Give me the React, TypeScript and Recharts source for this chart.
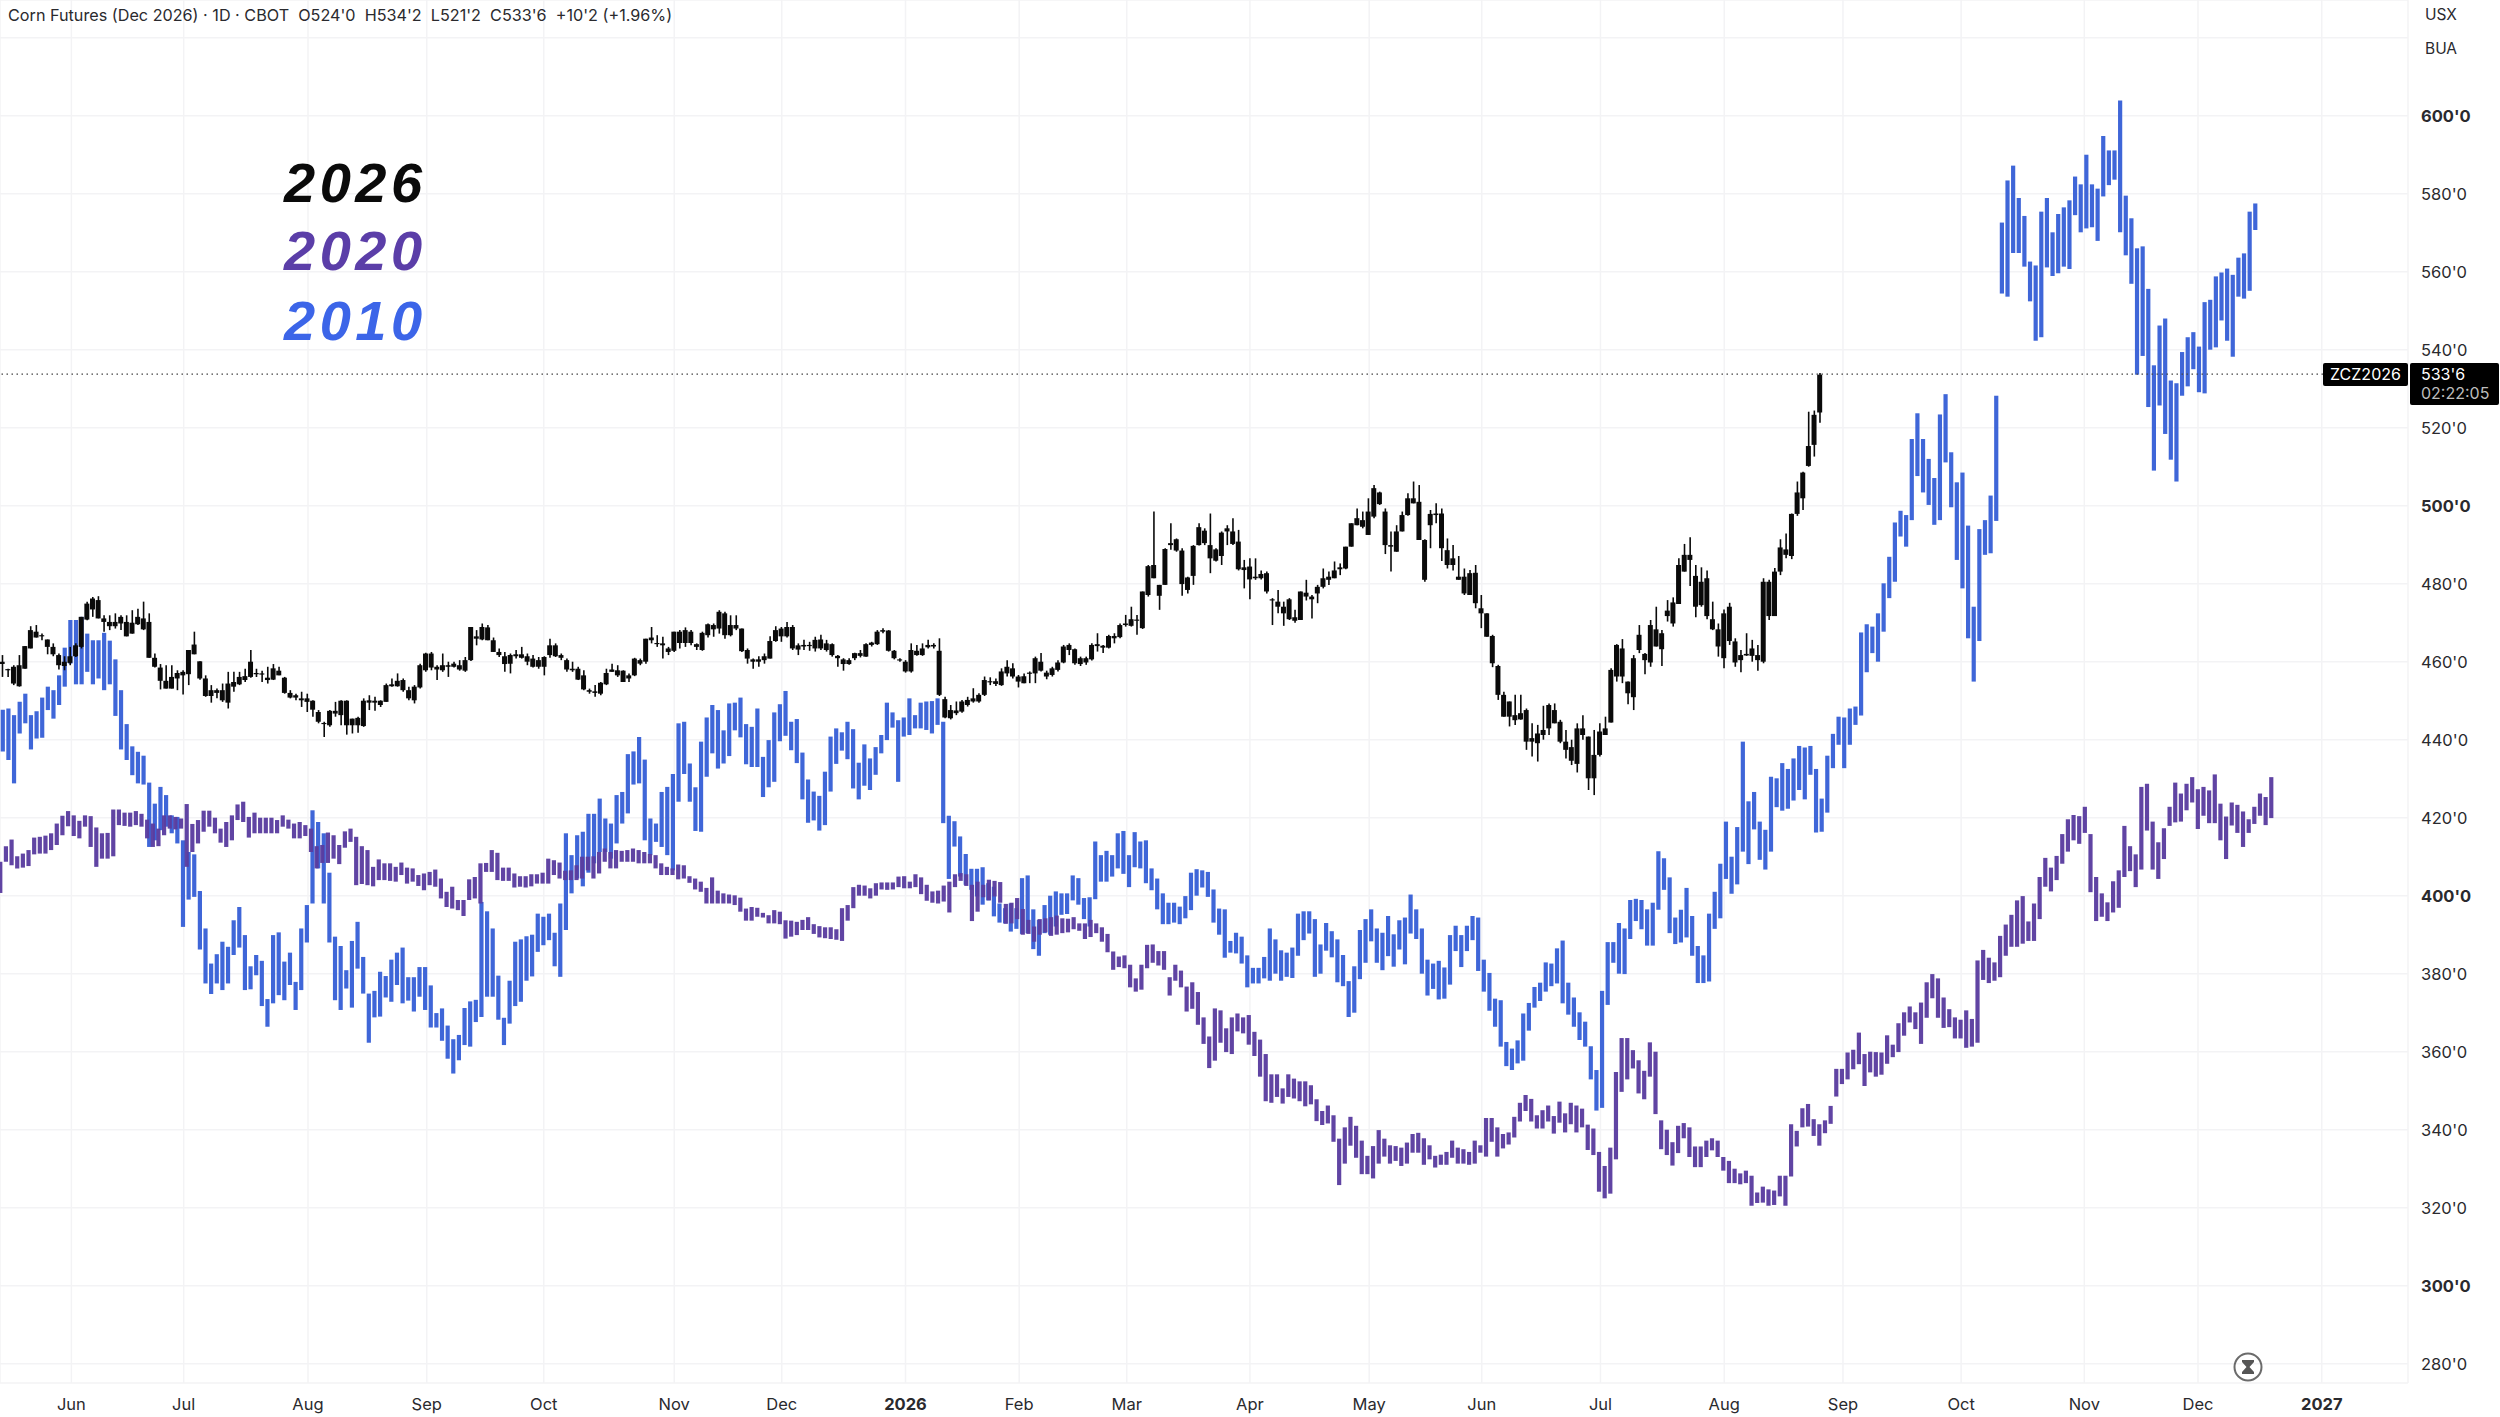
import React from 'react';
import { ComposedChart, Bar, XAxis, YAxis, CartesianGrid, ReferenceLine } from 'recharts';

const WIDTH = 2500, HEIGHT = 1417, PLOT_W = 2408;

const monthLabels = ['Jun','Jul','Aug','Sep','Oct','Nov','Dec','2026','Feb','Mar','Apr','May','Jun','Jul','Aug','Sep','Oct','Nov','Dec','2027'];
const monthPositions = [12.75,32.8,55,76.2,97.1,120.4,139.6,161.7,182,201.2,223.2,244.5,264.6,285.8,307.9,329.1,350.2,372.2,392.5,414.6];
const priceTicks = [280,300,320,340,360,380,400,420,440,460,480,500,520,540,560,580,600,620];
const boldPrices = [300,400,500,600];
const lastPrice = 533.75;

// 2026: [low, body low, body high, high]
const candles2026 = [
[456.1,459.4,460,461.7],[456.1,457.8,458,458.2],[454,454.4,458.7,459.1],[453.6,453.7,459.1,461.7],[458.2,458.2,464,464],[463.4,463.4,468.1,469.1],[466.2,466.2,467.7,469.4],[465.5,466.5,466.8,467.2],[461.9,463.8,465.7,465.7],[461.4,461.9,463.8,464.7],
[458,459.1,461.7,462.1],[457.8,458.9,460,461.4],[459.1,459.7,461.4,463.8],[461.2,461.4,464.2,464.7],[463.4,463.8,471.5,471.5],[470.6,470.8,474.9,475.4],[471.5,473.4,476.2,476.6],[471.1,471.1,475.8,476.8],[467.7,470.2,471.1,471.9],[468.1,469.1,470.2,471.9],
[468.5,469.1,470.2,472.4],[468.1,469.8,471.5,471.9],[466.5,466.5,470.2,471.9],[467.2,467.2,470,473.2],[469.4,469.6,471.5,473.6],[468.1,468.3,471.1,475.4],[461,461,470.2,472.4],[458.5,458.7,461,462.1],[452.9,455.1,458.5,459.4],[453.1,453.1,455.1,459.1],
[453.1,453.1,456.1,459.1],[452.7,455.7,457.1,457.8],[451.6,456.5,457.4,457.8],[454,456.8,463,463],[461.9,461.9,464.4,467.7],[455.4,455.7,460.1,460.1],[451,451.2,455.7,456.5],[449.5,451.2,452.7,454],[450.6,452,452.7,453.1],[449.7,450.1,452.7,454.4],
[448,449.5,454.4,457.4],[452.3,453.6,454.8,457.4],[454,454.2,456.1,457.4],[454.8,455.3,456.3,458.2],[455.9,456.1,460,463],[456.1,456.8,457.1,458.2],[454.8,456.7,457,457.7],[454.4,455.3,455.9,458.7],[455.3,455.4,458.3,459.4],[456.5,456.5,457.7,458.7],
[451.8,452,455.9,456.1],[450.6,450.8,452,452.7],[450.1,450.8,451.4,451.8],[448.4,450.1,450.6,452.3],[447.1,449.7,450.6,451.8],[445.9,447.7,450,450.1],[444.2,444.6,447.1,447.6],[440.7,444,444.3,444.6],[443.3,443.7,447.4,447.6],[445.9,446.7,447.4,449.7],
[443.7,446.3,450,450.1],[441.3,443.7,450,450.1],[441.6,443.7,445.4,445.4],[441.8,443.7,445.6,445.9],[443.3,443.5,450,450.6],[447.6,449.5,450.1,451.4],[447.4,449.5,450,451],[448.4,448.9,450,450.1],[449.7,449.7,454,454.4],[453.6,453.7,454.2,455.7],
[453.6,453.7,455.1,457],[452.3,452.7,455.3,455.7],[450.1,450.6,452.7,453.6],[449.3,450.1,453.6,454],[453.1,453.4,459.1,459.5],[457.4,457.8,462.1,462.3],[457.8,458.5,462.1,462.5],[455.3,458,458.7,459.1],[457.4,457.8,459.1,462.1],[456.1,458.7,459.1,460],
[458.5,458.7,459.5,460],[457.7,458,459.1,460.4],[457.4,457.7,460.4,461.2],[460.2,460.4,468.9,468.9],[464.2,465.9,466.5,468.1],[465.5,465.7,468.9,469.8],[465.5,465.5,468.8,469.4],[462.5,462.5,465.5,466.2],[461.2,461.7,462.5,463.4],[457.4,459.4,461.4,462.5],
[457,459.5,461.7,462.1],[460.8,461.4,461.9,463],[460.8,461,461.9,463.8],[459.1,460,461.4,462.1],[458.5,458.7,460.8,461.7],[458.2,458.7,460.4,461.2],[456.5,458.7,461.2,461.4],[461,461.7,464.2,465.9],[461.2,461.4,464.2,464.7],[460.4,461,461.7,462.1],
[457.4,458,460.4,460.8],[457.4,457.8,458.2,460],[455.3,455.4,458.2,458.7],[452.7,452.9,456.5,457.8],[451.8,452.3,452.7,453.1],[451,452,452.4,454],[451.4,451.8,454.6,454.8],[454,454.2,457.1,458.2],[457.4,457.4,458,459.5],[456.1,456.5,457.8,459.1],
[454.8,454.8,457.7,457.8],[454.8,455.7,456.5,457],[456.3,456.5,460.8,461],[459.1,459.5,460.4,460.8],[459.5,460,465.9,465.9],[464.7,465.5,466.2,468.9],[463.8,464.5,464.8,466.8],[460.8,464.2,464.7,466.4],[461.7,462.5,463.4,463.8],[462.5,462.8,467.7,467.7],
[463.4,464.8,467.7,468.1],[463.8,464.8,468.1,468.8],[464.2,464.8,467.7,468.1],[463,463.8,464.5,464.7],[462.8,463,467.4,467.7],[466.2,466.8,469.6,469.8],[466.4,468.3,469.4,469.8],[467.2,468.5,472.8,473.2],[465.9,466.8,472.4,472.8],[466.5,466.8,469.4,471.9],
[468.1,468.5,469.4,471.9],[462.5,462.7,468.5,468.5],[459.5,460.8,463,463.4],[458.2,460,460.6,460.8],[458.7,460,460.6,461.4],[459.5,460.4,461.4,462.1],[460.8,460.8,465.3,466.5],[465.1,465.3,468.1,469.1],[465.1,466.5,468.5,468.9],[466.2,466.5,468.9,470.2],
[463,463.4,468.9,469.4],[461.7,463.1,464.2,464.7],
[463,463.9,464.3,465.6],[462.8,464,464.3,465.1],[462.6,463.4,465.6,466.4],[463,463.4,465.7,466.9],[462.6,463,464.7,465.6],[461.3,461.7,464.5,464.7],[458.7,460.9,461.5,461.7],[457.7,459.4,460.6,460.9],[459.2,459.4,460.4,460.9],[460.4,460.9,462.2,462.3],
[461.1,461.5,462.2,463],[461.3,461.3,464.5,464.7],[463.9,464.3,464.9,465.1],[464.3,464.5,467.7,468.1],[467.3,467.7,468.1,468.6],[462.6,462.8,468,468.1],[460.6,460.9,462.8,463],[460,460.3,460.6,460.9],[457.2,457.5,460,460.4],[457.2,457.5,463,464.7],
[461.5,461.7,462.8,464.3],[461.5,461.7,463.4,464.7],[463.4,463.7,464.3,465.6],[463.4,463.9,464.3,464.7],[451.2,451.5,462.8,466],[445.5,445.7,450.4,451],[445.2,445.5,447.6,448.9],[446.3,446.8,447.5,449.8],[446.9,447.2,449.8,450.2],[448.5,448.9,450.2,451],
[449.5,449.8,450.6,453.2],[449.5,449.8,451.5,451.9],[451.2,451.5,455.3,456.2],[454,454.7,455,456],[453.8,454.3,455,455.7],[453.8,454,457.5,458.3],[456.2,457,458.7,460.4],[455.7,456.2,458.3,459.6],[453.4,454.9,456.2,456.6],[454.5,454.5,456.3,457],
[454.5,456.9,457.2,457.5],[454.5,457,460.9,461.3],[457.5,457.7,460,462.2],[455.5,456.2,457.2,457.7],[456.2,456.6,458.3,458.7],[457.5,457.9,459.8,460.4],[459.6,459.8,463.9,464.3],[461.7,463,464.3,464.7],[459.2,459.6,463.2,463.4],[458.9,459.4,460.9,461.3],
[459.2,459.8,460.9,461.3],[460.3,460.6,464.3,464.7],[462.6,464,464.5,467.3],[462.2,463.6,464.1,464.3],[463.4,463.6,466.6,466.9],[464.7,466,466.6,467.3],[466,466.3,469.4,469.8],[469,469.4,469.8,472],[469,469.2,470.9,474.1],[466.9,470.5,470.7,472],
[468.4,468.6,478,478],[476.7,477.1,484.5,484.8],[481.4,481.4,484.8,498.5],[473.3,476.9,479.7,479.7],[479.7,479.7,488.9,489.1],[488.7,489.9,490.4,495.5],[488.2,488.5,491.4,491.6],[476.9,479.9,488.5,489.1],[477.5,478.4,481.6,481.8],[479.7,482,489.7,489.9],
[489.8,489.9,494.5,495.5],[489.9,490.4,493.6,494.2],[482.7,486.5,489.9,498],[485.7,485.9,488.8,489.1],[484.8,487.1,493.1,493.4],[489.9,493.4,494.2,495],[489.9,490.2,493.4,496.8],[483.4,483.7,490.8,493.8],[478.8,483.5,484.2,486.1],[476,481.1,484.4,486.5],
[481,481.4,481.8,486.5],[481.1,481.4,482.5,483.4],[477.5,478,482.7,483.1],[469.4,475.7,476,476.3],[472.4,474.1,475.4,478.4],[469.2,472.4,474.1,475.4],[470.7,470.9,476,476.3],[470,470.5,471.4,473.3],[470.7,470.7,478,478],[475.7,476.7,477.7,481],
[471.1,476,476.7,477.1],[475,477.5,479.2,479.7],[478.8,479.2,481.4,483.9],[479.7,481,481.8,483.1],[481.4,481.4,483.4,485.7],[482.2,483.7,484.2,485.2],[483.7,483.9,489.5,489.5],[489.5,489.5,495.5,495.5],[495,495,496.8,499.3],[494.2,494.6,496.3,498.5],
[492.5,492.5,498.5,501.9],[496.8,497.2,504.5,505.3],[500.2,500.4,503.4,503.6],[487.6,489.9,498.5,499.3],[483.1,489.5,489.9,493.4],[488.2,488.2,493.4,495],[493.4,493.4,497.6,498.5],[497.4,497.6,501.9,503.2],[500.6,500.6,501.9,506.2],[491.2,491.2,501,505.3],
[480.5,481,491.2,491.4],[489.1,495,497.9,498.9],[495.5,497.6,498,500.6],[485.8,489.1,498,499.3],[483.9,484.8,488.6,491.6],[483.4,484.8,486.5,489.9],[481,481,481.8,487.1],[477.1,477.5,481.8,483.9],[477.1,477.1,482.7,483.5],[473.7,475,482.8,484.8],
[468.6,472.4,473.7,477.1],[466.4,466.4,472.4,472.4],[458.6,459.6,466.6,466.9],[450.2,451.5,458.9,459.2],
[445.9,445.9,451.5,452.3],[443.4,445.9,449.8,449.8],[443.8,445,446.3,451.5],[445.1,445.2,446.8,451.5],[437.4,439.5,447.6,448],[435.7,439.5,440.4,444.2],[434.4,439.1,441.6,443.8],[440,441.2,442.5,448.7],[441.2,442.9,448.9,449.3],[444.2,444.2,447.6,449.3],
[439.1,439.5,444.6,445.1],[435.2,437.4,439.5,442.5],[433.5,434.6,438.1,440],[431.6,433.8,442.9,444.2],[440,441.2,442.9,446.3],[427.1,430.1,440.8,440.8],[425.8,430.1,436.1,442.5],[435.7,436.1,442.1,444.2],[441.2,441.2,442.9,445.9],[444.4,444.4,457.9,458.3],
[454.9,456.2,464.3,464.5],[454.5,456.2,463.4,465.8],[449.1,451.9,454.9,454.9],[447.6,450.9,460.9,461.7],[462.2,463,466.9,469.4],[456.8,460.4,462,462.2],[458.7,459.8,469.4,470.7],[463.9,463.9,468.3,474.1],[458.9,463.2,467.3,468.1],[470.3,471.7,473.1,475.8],
[469,469.8,475.2,476.5],[474.8,474.8,484.8,486.5],[483.1,483.1,487.4,490.2],[479.4,486.1,487.4,491.9],[471.4,474.1,482,484.8],[474.1,474.5,480.5,484.2],[470.9,471.7,481.4,483.4],[468.1,468.3,470.9,475.4],[461.3,463.9,468.3,469.8],[458.3,460.9,472.4,473.4],
[464.3,465.3,474.1,475.1],[458.7,459.8,465.2,466],[457.3,460.4,461.7,463],[461.5,461.6,462,467.3],[460,461.5,463.4,465.6],[457.7,460.4,461.7,464.3],[459.6,460,480.5,481.4],[470.7,471.7,480.5,481],[471.7,471.7,483.1,484],[482.2,483.1,489.3,491.4],
[486.5,487.4,488.8,492.9],[486.3,487.1,497.9,498],[497.4,497.9,503.4,506.2],[498.9,501.9,508.5,508.7],[510,510.2,515.3,524.1],[512.6,515.6,523.3,524.4],[521.3,523.9,533.6,534],
];

// 2020: [low, high]
const bars2020 = [
[400.7,408.7],[408.7,412.7],[407.8,414.4],[407,410.1],[407.2,410.8],[407.6,411.7],[410.6,414.9],[410.8,415.1],[410.8,415.4],[411.7,416],
[413,418.5],[415.5,420.5],[417.8,421.7],[415.3,420.6],[414.7,419.2],[417.7,420.6],[412.5,420.4],[407.4,417.5],[409.5,416],[409.5,416.1],
[410.1,422.1],[418.1,422.1],[417.9,421.3],[417.7,421.3],[418.1,421.7],[417.7,421],[414.7,419.5],[412.5,418.5],[412.7,417.2],[415.5,420.6],
[417.2,420.6],[417,420.2],[417.2,419.8],[407.4,423.5],[411.2,418.4],[413.4,419.4],[416.4,421.8],[417.7,421.8],[416,420],[413.6,417.2],
[412.5,418.9],[414.2,420.6],[419.4,423.4],[418.9,424.1],[414.9,420.2],[416,421.3],[416,420],[416,420],[416,420],[416,419.4],
[417.7,420.6],[417.2,419.5],[414.7,418.5],[414.7,418.9],[415.3,418.1],[411.2,417.2],[407,412.7],[408.4,413],[408.4,416.2],[409.5,415.5],
[408.1,413],[412.3,416.5],[413.8,417.2],[402.7,415.1],[403,412.7],[402.7,411.7],[402.4,407.4],[404,409.3],[404,408.3],[403.8,408.3],
[403.6,407.4],[405.3,408.5],[403.1,407.2],[403.6,407],[402.5,405.3],[401.4,405.7],[402.7,406.1],[402.3,406.7],[399.3,404.4],[397.1,401],
[396.7,402.3],[396.3,398.9],[394.8,398.9],[398.9,404.2],[399.3,404.8],[398,408.3],[406.1,408.4],[406.1,411.7],[404,411],[403.8,407.2],
[403.8,407.2],[402.1,405.7],[402.3,405],[402.1,405],[402.4,405.5],[403.1,405.5],[403.1,405.9],[403.1,409.5],[405.3,409.1],[404.4,408.5],
[404,406.4],[404,406.5],[404,407.8],[404.4,410],[406.5,410],[404.4,410.1],[405.7,411.2],[408.7,412.1],[407,411.2],[407,411.7],
[408.7,411.5],[408.7,411.7],[408.7,412.1],[408.3,411.7],[408.3,411.2],[408.3,410.7],[407,410.4],[405.3,408.3],[405.3,407.4],[405.3,407],
[404.2,408],[404.4,407.8],[403.3,405],[401.6,404.4],[401,403.6],[398,402],[398,404.7],[398,401.3],[398,400.6],[398,400.3],
[397.6,400.1],[395.9,399.5],[393.6,396.7],[393.6,397.1],[394.6,396.9],[394.4,395.6],[392.9,395],[392.9,396.3],[392.7,395.9],[389,393.7],
[389.5,393.6],[389.9,393.3],
[391.2,393.8],[391.2,394.5],[390.2,392.7],[389.3,392.2],[389.1,391.9],[388.9,391.9],[388.7,391.4],[388.4,396.8],[393.6,397.6],[396.8,402.2],
[400,402.8],[400,402.6],[399.3,401.9],[400,403.2],[401.6,403.4],[401.5,403.4],[401.6,403.4],[402.2,404.9],[401.9,405],[401.9,403.6],
[402.2,405.5],[400.4,404.7],[398.7,402.8],[398.2,401.1],[398,401.3],[398.5,402.6],[395.7,403.6],
[402.2,405.5],[403.8,405.8],[402.5,405.5],[393.5,402.8],[395.9,403.6],[399.6,402.8],[398.8,404.1],[399.8,403.8],[398.2,403.5],[392.8,397.9],
[392.9,398.2],[394,399.4],[390,396.6],[390.2,393.8],[388.2,392.1],[390,394],[390.6,394.2],[389.7,394.5],[390,394.9],[390.4,394.2],
[390.6,394.1],[391.4,394.5],[391,392.9],[388.9,392.9],[389.4,393.8],[390.4,392.9],[388.2,391.9],[385.5,390.2],[381,385.7],[381.7,384.4],
[381.4,384.7],[376.5,382.3],[375.4,378.8],[375.9,382.3],[381.4,387.4],[382.8,387.5],[382.1,385.8],[381,385.8],[374.4,379.1],[378.2,382.3],
[376.5,380.8],[370.3,376.7],[371,377.8],[366.9,375.3],[362,368.8],[355.8,363.9],[357.7,371.1],[362.3,370.6],[359.9,366],[359.4,368.8],
[365.2,369.8],[364.7,368.8],
[361.8,369.4],[358.9,365.1],[353.6,363.1],[347.3,359.4],[346.9,354.2],[348.4,354.2],[346.7,350.6],[348.4,354.2],[348,353.1],[347.3,352.4],
[346,352.4],[346.5,351.4],[342.2,347.8],[341.2,344.8],[341.6,346.2],[336.9,343.7],[325.8,337.7],[331.3,340.6],[335.9,343.3],[332.8,341],
[328.6,337.2],[328.6,333.3],[327.5,335.8],[331.3,339.9],[333.1,337.7],[331.3,336],[332,335.8],[330.7,335.4],[331.3,336.7],[334.1,338.9],
[334.1,339.2],[331,337.8],[332.4,336],[330.3,333.3],[331,333.6],[331,334.3],[332.8,337.2],[331.3,335.4],[331.3,335],[331,334.3],
[331.3,337.2],[334.1,336],[333.1,343],[336.9,343],[333.1,340.6],[335.2,338.9],[336.2,339.3],[338,343.3],[342.1,346.9],[344.8,348.9],
[342.1,347.9],[340.3,343.7],[340.3,345],[342.1,346.2],[339,343.5],[341.8,347.2],[339.3,344.2],[341.4,346.9],[339.3,346.2],[340.6,345.4],
[334.8,341.3],[333.5,340.3],[324.1,334.3],[322.4,330.7],[323.6,335.4],[332.4,354.8],[349.7,363.5],[352.9,363.5],[355.7,360.4],[349.3,357.8],[347.8,355.1],
[353.6,362.4],[344,360],[335,342.4],[333.5,340],[330.8,336.8],[334,341],[337.8,341.7],[333,340.6],[330.4,335.7],[330.4,335.7],
[333,337.2],[334.7,337.8],[333,337.2],[329.5,333],[326.3,332],[326.3,330],[326,328.8],[326.3,329.5],[320.5,328.2],[321.2,323.9],
[321.3,325.4],[320.5,324.7],[320.7,324.4],[322.9,328.2],[320.5,328.2],[328,341.4],[335.7,339.7],[340.6,345.5],[340.8,346.6],[338.4,342.7],
[335.9,341.4],[339.1,342.4],[341.5,346.1],[348.5,355.6],[351.7,355.6],[352.9,359.8],[355.5,360.5],[356.8,364.9],[351.2,359.4],[354.7,360],
[353.6,359.9],[354.1,359.8],[356.9,364.2],[358.6,361.8],[359.9,367.3],[364.1,370.1],[367.5,371.6],[365.8,370.1],[362,372.6],[368.7,377.8],
[373.7,379.9],[368.7,378.8],[366.1,373.9],[366.3,370.9],[363.4,368.8],[363.4,368.2],[361,370.6],[361.3,368.4],[362.3,383.4],[378.4,386.1],
[377.6,384.1],[378.2,382.9],
[379.1,389.7],[384.6,392.6],[386.9,395.1],[386.9,398.8],[387.7,399.9],[388.4,393.4],[388.4,398],[394,404.8],[402.3,409.7],[401.1,407.2],
[404,410.2],[408.2,415.8],[411.3,419.6],[414.2,420.7],[413.3,420.4],[416.1,422.8],[400.9,415.8],[393.5,404.8],[394.6,400.6],[393.5,398.3],
[395.7,403.7],[396.9,406.5],[404.8,417.9],[406.3,412.7],[402.2,410.6],[406.7,427.9],[416.7,428.7],[406.7,419],[404.3,413.7],[409.4,417.3],
[417.9,422.8],[418.8,429],[419,426.2],[421.9,428.7],[423.9,430.4],[417.1,427.3],[420.5,427.9],[418.6,427],[418.6,431.1],[414.2,423.6],
[409.4,420.3],[418,423.9],[416.1,423.3],[412.5,421.6],[416.1,419.6],[418.4,422.8],[420.5,426.2],[418.1,425.3],[419.9,430.4],
];

// 2010: [low, high]
const bars2010 = [
[437,447.7],[434.8,448],[428.8,446.3],[441.6,449.7],[444.2,451.8],[437.5,446.3],[440.3,447.3],[440.5,450.8],[447.6,453.6],[445.4,452.7],
[448.9,456.5],[453.6,463.6],[459.5,470.7],[454.2,470.7],[454.2,471.5],[457.4,467.2],[454.2,465.5],[455.7,465.5],[452.7,467.4],[454.2,465.4],
[446.1,460.6],[437.5,452.7],[434.8,444],[430.9,438.3],[428.8,436.9],[428.5,435.9],[412.5,429],[414.2,423.6],[416.8,427.9],[417.7,425.8],
[416,420.6],[413.4,420.2],[392,414.2],[399,411.2],[399.7,410.6],[386.2,401.2],[377.5,391.6],[374.8,382.6],[377.5,385],[375.8,388.2],
[377.5,386.9],[384.8,393.7],[386.7,397.1],[375.8,389.9],[376,381.9],[379.6,384.8],[371.7,383.3],[366.4,373.5],[372.4,389.9],[374.5,390.6],
[373.2,383.1],[377.1,385.4],[370.7,377.9],[375.8,391.6],[388,397.6],[398,421.9],[407,418.9],[398,416],[388,405.9],[373.2,389.5],
[370.7,387.1],[376.2,380.9],[371.3,388.4],[381.3,393.3],[374.9,384.3],[362.3,374.9],[368.8,375.6],[369,380.5],[373.9,379.4],[372.8,383.6],
[377.1,385.4],[372.4,386.7],[373.1,379.1],[370.3,379.1],[374.1,381.7],[370.7,381.7],[366.2,377],[366.2,369.9],[362.8,371.1],[358.2,366.7],
[354.4,363.2],[357.8,364.3],[361.7,371.2],[361.3,372.9],[367.6,373.3],[368.9,398.4],[374.1,396],[374.1,391.6],[368.2,379.5],[361.7,368.7],
[367.2,378.2],[371.7,388.2],[372.8,388.8],[378.2,389.6],[379.3,390],[385.6,395.4],[387.3,394.6],[388.6,395.4],[381.9,390.5],[379.2,398],
[391.2,416],[400.6,410.4],[404.4,415.5],[402.4,416.4],[405.9,421],[408.3,421],[411.2,424.9],[411.2,419.8],[409.5,418.5],[413.4,425.8],
[418.5,426.6],[421.1,436.3],[428.5,437],[428.8,440.7],[414.2,434.9],[410.4,419.8],[413.8,418.5],[412.5,426.6],[410.4,427.9],[406.5,431.2],
[424.1,444.2],[431.2,444.6],[424.1,433.9],[416.6,427.8],[416.4,439.5],[430.5,445.7],[436.5,448.9],[432.6,447.6],[433.9,442.4],[435.8,449.3],
[442.4,449.5],[440.6,450.8],[433.7,444],[433,443.3],[433,448],[425.3,435.6],[427.8,439.9],[429.2,447],[439.6,449.1],[441,452.5],
[437.3,444.6],[434,445.3],
[424.7,436.7],[418.7,429.8],[419.3,426.7],[416.7,425.6],[418.1,431.8],[426.7,440.8],[433.8,442.9],[437.2,441.9],[435,444.6],[427.5,442.7],
[424.7,434.1],[428.2,438.8],[427.1,435.2],[431,438.1],[436.5,441.2],[439.9,449.5],[443.1,447],[429.2,445],[440.8,445.7],[441.2,450.6],
[442.9,446.3],[442.9,449.5],[442.5,449.8],[441.6,449.9],[443.8,450.6],[418.6,444.6],
[404.3,420.5],[412.6,419.1],[404.9,415.2],[402.8,410.7],[401.5,406.9],[399.8,406.9],[397.7,407.3],[398.8,403.2],[394.7,402.3],[393.1,398],
[392.9,396.8],[390.8,398],[391.5,396.8],[390.2,404.5],[390.4,405.2],[386.3,396.5],[384.6,393.8],[390.4,397.6],[390,400],[392.1,401.1],
[395.1,400.6],[395.3,400.6],[398.8,405.2],[397.7,404.5],[394,399.4],[392.1,399.6],[399.1,413.9],[403.6,410.4],[403.6,411.5],[404.9,410.4],
[407,416],[405.6,416.6],[402.2,410.4],[407.3,416.3],[407,413.9],[403.2,414.2],
[401.4,407],[396.5,404.4],[392.7,400.6],[392.7,398.2],[393.1,398.2],[392.7,397.2],[394.2,399.9],[396.3,405.9],[400,406.8],[402.1,406.5],
[399.7,406.1],[393.1,401.6],[390,396.7],[384.1,396.5],[385.4,388.4],[385.2,390.5],[382.6,389.5],[376.5,384.7],[377.5,381.5],[377.5,381.5],
[378.8,384.3],[378.2,391.6],[380,388.8],[378.2,386],[379.2,385.4],[378.9,386.7],[384.6,395.4],[388.6,396],[390.3,396],[379.2,394],
[380,387.5],[385.9,393],[384.2,390.9],[377.8,388.8],[376.8,384.8],[368.9,378.1],[370,381.9],[378.6,391.2],[382.8,394],[388.3,396.5],
[382.8,391.6],[380.9,390.5],[384.5,394.8],[381.8,390.1],[386.2,393.7],[382.4,394.4],[390.3,400.3],[388.9,396.5],[380,391.6],[374.4,383.6],
[376.1,382.6],[373.4,383.3],[373.6,381.6],[377.2,389.9],[385.8,392.3],[381.7,389.9],[385.8,392.3],[388.6,394.8],[380.7,394.4],[375.4,383.6],
[370.5,380.2],[366.4,373.6],[361.3,373.2],[356.3,362.5],[355.3,360.8],[357,362.9],[357.7,369.8],[365.4,372.5],[371.3,376.6],[373,377.7],
[375.4,382.9],[376.8,382.6],[377.5,386.5],[372.4,388.5],[369.5,377.7],[366.4,373.9],[363,370.1],[361.3,367.7],[352.9,361.4],[344.9,355.3],
[345.6,375.6],[372,388.1],[382.8,388.1],[380,393],[379.9,391.6],[388.9,398.9],[393.5,399.2],[391.4,398.9],[387.2,396.5],
[387.2,398.2],[396.4,411.4],[401.5,409.6],[390.4,404.7],[387.6,394.4],[388,396.4],[389.3,402],[384.6,394.8],[377.6,387.1],[377.6,384.7],
[378,395.4],[391.5,401],[394.2,408.2],[404.3,419],[400.5,410],[402.9,417.6],[411.3,439.5],[408.1,424.2],[417,426.6],[409.2,419],
[406.7,416.9],[411.3,430.5],[422.7,430.1],[421.8,434],[422.3,432.5],[424.4,435.2],[427.1,438.4],[424.7,438],[431,438.4],[416.2,432.5],
[416.4,424.9],[421.3,435.9],[432.7,441.5],[438.7,445.9],[432.7,445.7],[438.7,448],[443.8,448.5],[446.2,467.5],[457.3,469.6],[462.2,469],
[460,472.4],[467.7,480.1],[476.3,486.9],[480.5,495.7],[492.1,498.7],[489.5,497.6],[496.3,517.1],[507.6,523.7],[503.4,517.1],[500.2,512],
[495.1,507.1],[496.3,523.4],[511.1,528.6],[499.6,513.7],[486.1,506],[478.8,508.5],[466,494.9],[454.9,474.1],[465.3,494],[487.4,496.3],
[487.8,502.6],[496.1,528.2],
[554.4,572.6],[553.6,583.4],[564.8,587.2],[564.8,578.9],[561.3,574.3],[552.4,562.6],[542.3,561.6],[543.2,575.4],[561.1,578.9],[558.9,570.1],
[559.6,574.8],[561.3,576.5],[560.7,578.3],[574.5,584.4],[570.1,582.4],[571.1,590],[571.4,582.4],[567.9,581.3],[579.3,594.8],[582.2,591.1],
[583.6,591.1],[570.1,603.9],[564.2,579.5],[556.9,573.7],[533.6,566],[538.4,566.5],[525.3,555.6],[509,536],[525.7,546.2],[518.4,548],
[511.8,532.1],[506.2,531.4],[528.2,539.4],[530.6,543.2],[535,544.5],[529.1,540.8],[528.8,552.2],[540,552.8],[540.6,558.8],[547.5,559.8],
[542.3,560.8],[538.2,559.2],[553.6,563.6],[553.1,564.7],[555.1,575.4],[570.7,577.5],
];

const COLORS = { black: '#0a0a0a', purple: '#5a3c9f', blue: '#3f66d8', legendPurple: '#5b3ea8', legendBlue: '#3c65e8', grid: '#f3f3f5', text: '#2a2a2e' };

const rowCount = Math.max(candles2026.length, bars2020.length, bars2010.length);
const rows = Array.from({ length: rowCount }, (_, i) => {
  const c = candles2026[i];
  return {
    i,
    wick: c ? [c[0], c[3]] : null,
    body: c ? [c[1], Math.max(c[2], c[1] + 0.3)] : null,
    purple: bars2020[i] ?? null,
    blue: bars2010[i] ?? null,
  };
});

// Horizontal alignment of each series' first and last bar inside the plot.
const domainOf = (n: number, first: number, last: number): [number, number] => {
  const step = (last - first) / (n - 1);
  return [-first / step, (PLOT_W - first) / step];
};
const blackDomain = domainOf(candles2026.length, 2.5, 1820);
const purpleDomain = domainOf(bars2020.length, 0, 2271);
const blueDomain = domainOf(bars2010.length, 2.5, 2255);

const font = 'Inter, "Liberation Sans", sans-serif';

const MonthTick = (props: any) => {
  const idx = monthPositions.indexOf(props.payload.value);
  const label = monthLabels[idx];
  const bold = /^\d/.test(label);
  return (
    <text x={props.x} y={1405} textAnchor="middle" dominantBaseline="middle" fontFamily={font} fontSize={16.5} fontWeight={bold ? 700 : 400} fill={COLORS.text}>
      {label}
    </text>
  );
};

const PriceTick = (props: any) => {
  const v = props.payload.value;
  if (v === 620) return null;
  return (
    <text x={2421} y={props.y + 1.5} dominantBaseline="middle" fontFamily={font} fontSize={16.5} fontWeight={boldPrices.includes(v) ? 700 : 400} fill={COLORS.text}>
      {`${v}'0`}
    </text>
  );
};

const abs = (s: React.CSSProperties): React.CSSProperties => ({ position: 'absolute', whiteSpace: 'nowrap', ...s });

const legend = [
  { label: '2026', color: COLORS.black, top: 155 },
  { label: '2020', color: COLORS.legendPurple, top: 223 },
  { label: '2010', color: COLORS.legendBlue, top: 293 },
];

export default function App() {
  return (
    <div style={{ position: 'absolute', left: 0, top: 0, width: WIDTH, height: HEIGHT, background: '#fff', overflow: 'hidden', fontFamily: font }}>
      <ComposedChart width={WIDTH} height={HEIGHT} data={rows} margin={{ top: 0, right: 0, bottom: 0, left: 0 }} barGap={0}>
        <CartesianGrid stroke={COLORS.grid} strokeWidth={1.5} xAxisId="main" />
        <XAxis xAxisId="main" dataKey="i" type="number" domain={[0, 430]} ticks={monthPositions} interval={0} height={34} tick={MonthTick} tickLine={false} axisLine={false} allowDataOverflow />
        <XAxis xAxisId="blue" dataKey="i" type="number" domain={blueDomain} hide allowDataOverflow />
        <XAxis xAxisId="purple" dataKey="i" type="number" domain={purpleDomain} hide allowDataOverflow />
        <XAxis xAxisId="wick" dataKey="i" type="number" domain={blackDomain} hide allowDataOverflow />
        <XAxis xAxisId="body" dataKey="i" type="number" domain={blackDomain} hide allowDataOverflow />
        <YAxis orientation="right" type="number" domain={[275.05, 629.67]} ticks={priceTicks} interval={0} width={92} tick={PriceTick} tickLine={false} axisLine={false} allowDataOverflow />
        <Bar xAxisId="blue" dataKey="blue" barSize={4.2} fill={COLORS.blue} isAnimationActive={false} />
        <Bar xAxisId="purple" dataKey="purple" barSize={4.2} fill={COLORS.purple} fillOpacity={0.96} isAnimationActive={false} />
        <Bar xAxisId="wick" dataKey="wick" barSize={1.6} fill={COLORS.black} isAnimationActive={false} />
        <Bar xAxisId="body" dataKey="body" barSize={5} fill={COLORS.black} isAnimationActive={false} />
        <ReferenceLine y={lastPrice} xAxisId="main" stroke="#444" strokeWidth={1.2} strokeDasharray="1.5 3.5" />
      </ComposedChart>

      <div style={abs({ left: 8, top: 5, fontSize: 16.2, lineHeight: '20px', color: COLORS.text })}>
        Corn Futures (Dec 2026) · 1D · CBOT&nbsp;&nbsp;O524'0&nbsp;&nbsp;H534'2&nbsp;&nbsp;L521'2&nbsp;&nbsp;C533'6&nbsp;&nbsp;+10'2 (+1.96%)
      </div>
      <div style={abs({ left: 2425, top: 5, fontSize: 15.5, lineHeight: '20px', color: COLORS.text })}>USX</div>
      <div style={abs({ left: 2425, top: 39, fontSize: 15.5, lineHeight: '20px', color: COLORS.text })}>BUA</div>

      {legend.map((l) => (
        <div key={l.label} style={abs({ left: 284, top: l.top, fontFamily: '"Liberation Sans", sans-serif', fontStyle: 'italic', fontWeight: 700, fontSize: 56, lineHeight: '56px', letterSpacing: 4.5, color: l.color })}>
          {l.label}
        </div>
      ))}

      <div style={abs({ left: 2323, top: 363, width: 85, height: 23, background: '#000', borderRadius: 2, color: '#fff', fontSize: 16, lineHeight: '23px', textAlign: 'center' })}>ZCZ2026</div>
      <div style={abs({ left: 2410, top: 363, width: 89, height: 42, background: '#000', borderRadius: 2 })}>
        <div style={abs({ left: 11, top: 1, color: '#fff', fontSize: 16, lineHeight: '21px' })}>533'6</div>
        <div style={abs({ left: 11, top: 20, color: '#bdbdbd', fontSize: 16, lineHeight: '21px' })}>02:22:05</div>
      </div>

      <svg style={{ position: 'absolute', left: 2232, top: 1351 }} width={32} height={32}>
        <circle cx={16} cy={16} r={13.5} fill="none" stroke="#6b6b6b" strokeWidth={2} />
        <path d="M10 9 H22 V11 L17.5 16 L22 21 V23 H10 V21 L14.5 16 L10 11 Z" fill="#555" />
      </svg>
    </div>
  );
}
